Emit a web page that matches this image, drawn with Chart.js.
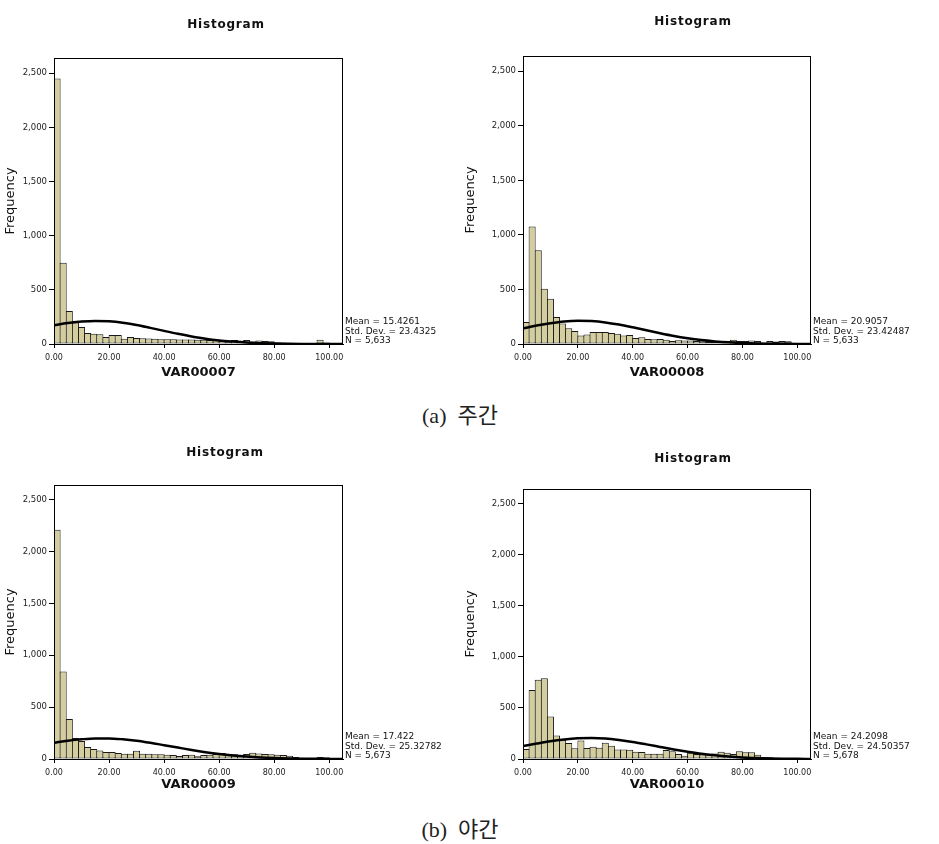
<!DOCTYPE html>
<html>
<head>
<meta charset="utf-8">
<script src="https://cdn.jsdelivr.net/npm/chart.js@4/dist/chart.umd.min.js"></script>
<style>
html,body{margin:0;padding:0;background:#fff;}
body{width:939px;height:844px;position:relative;overflow:hidden;}
canvas{position:absolute;}
.cap{position:absolute;font-family:"Liberation Serif","DejaVu Serif","Noto Sans CJK KR",serif;font-size:22px;color:#222;transform:translate(-50%,-50%);white-space:pre;}
</style>
</head>
<body>
<canvas id="c1"></canvas>
<canvas id="c2"></canvas>
<canvas id="c3"></canvas>
<canvas id="c4"></canvas>
<div class="cap" style="left:460px;top:413px">(a)  주간</div>
<div class="cap" style="left:460px;top:827px">(b)  야간</div>
<script>
// ---- data ----
const binCenters = [1.11, 3.33, 5.56, 7.78, 10.00, 12.22, 14.44, 16.67, 18.89, 21.11,
  23.33, 25.56, 27.78, 30.00, 32.22, 34.44, 36.67, 38.89, 41.11, 43.33,
  45.56, 47.78, 50.00, 52.22, 54.44, 56.67, 58.89, 61.11, 63.33, 65.56,
  67.78, 70.00, 72.22, 74.44, 76.67, 78.89, 81.11, 83.33, 85.56, 87.78,
  90.00, 92.22, 94.44, 96.67, 98.89];
const curveX = [0, 5, 10, 15, 20, 25, 30, 35, 40, 45, 50, 55, 60, 65, 70, 75, 80, 85, 90, 95, 100, 105];
const xTicks = [0, 20, 40, 60, 80, 100];
const yTicks = [0, 500, 1000, 1500, 2000, 2500];

const var07Freq = [2450, 750, 305, 215, 156, 101, 95, 89, 64, 83, 83, 49, 64, 55, 52, 50, 48, 45, 45, 45,
  42, 42, 42, 40, 40, 38, 35, 30, 25, 38, 22, 38, 22, 32, 28, 25, 15, 12, 10, 8, 6, 8, 10, 40, 15];
const var08Freq = [202, 1077, 859, 506, 414, 248, 187, 144, 120, 77, 86, 110, 110, 110, 101, 95, 77, 83, 55, 61,
  46, 43, 46, 40, 28, 34, 31, 31, 28, 25, 22, 22, 22, 15, 40, 28, 28, 31, 28, 12, 28, 22, 28, 25, 0];
const var09Freq = [2210, 843, 385, 202, 173, 115, 96, 83, 67, 67, 58, 51, 51, 80, 51, 51, 45, 45, 42, 38,
  29, 38, 42, 26, 38, 42, 48, 58, 51, 45, 38, 48, 61, 54, 48, 45, 42, 38, 32, 19, 13, 10, 10, 19, 16];
const var10Freq = [97, 675, 776, 789, 416, 230, 188, 156, 104, 182, 107, 120, 110, 159, 130, 94, 94, 91, 71, 68,
  52, 52, 52, 88, 75, 49, 32, 62, 49, 45, 45, 55, 71, 62, 49, 75, 65, 65, 42, 16, 16, 10, 10, 6, 0];

const var07Curve = [172, 193, 207, 213, 209, 196, 176, 149, 121, 94, 70, 49, 33, 22, 13, 8, 4, 2, 1, 0.6, 0.3, 0.1];
const var08Curve = [143, 169, 191, 207, 213, 210, 198, 178, 153, 126, 99, 74, 53, 36, 24, 15, 9, 5, 2.8, 1.4, 0.7, 0.3];
const var09Curve = [157, 176, 190, 198, 198, 190, 176, 156, 133, 110, 87, 66, 48, 34, 23, 15, 9.4, 5.6, 3.3, 1.8, 1.0, 0.5];
const var10Curve = [126, 151, 174, 191, 202, 205, 200, 186, 167, 143, 118, 93, 71, 51, 36, 24, 15, 9.5, 5.6, 3.2, 1.7, 0.9];

const var07Stats = ["Mean = 15.4261", "Std. Dev. = 23.4325", "N = 5,633"];
const var08Stats = ["Mean = 20.9057", "Std. Dev. = 23.42487", "N = 5,633"];
const var09Stats = ["Mean = 17.422", "Std. Dev. = 25.32782", "N = 5,673"];
const var10Stats = ["Mean = 24.2098", "Std. Dev. = 24.50357", "N = 5,678"];

const varNames = ["VAR00007", "VAR00008", "VAR00009", "VAR00010"];
const chartTitle = "Histogram";
const yTitle = "Frequency";

// ---- layout (page pixels) ----
const panels = [
  {id:'c1', x:0,   y:10,  w:452, h:370, L:54,  R:343, T:58,  B:344, tx:226, ty:25},
  {id:'c2', x:460, y:10,  w:466, h:370, L:523, R:811, T:56,  B:344, tx:693, ty:22},
  {id:'c3', x:0,   y:440, w:450, h:352, L:54,  R:343, T:485, B:759, tx:225, ty:453},
  {id:'c4', x:460, y:440, w:466, h:352, L:523, R:811, T:489, B:759, tx:693, ty:459}
];

function makeChart(p, name, freq, curve, stats) {
  const cv = document.getElementById(p.id);
  cv.width = p.w; cv.height = p.h;
  cv.style.left = p.x + 'px'; cv.style.top = p.y + 'px';
  const textPlugin = {
    id: 'panelText',
    afterDraw(chart) {
      const ctx = chart.ctx, a = chart.chartArea;
      ctx.save();
      ctx.strokeStyle = '#000'; ctx.lineWidth = 1;
      ctx.strokeRect(Math.round(a.left) + 0.5, Math.round(a.top) + 0.5,
        Math.round(a.right - a.left) - 1, Math.round(a.bottom - a.top));
      ctx.fillStyle = '#111';
      ctx.font = 'bold 12px "DejaVu Sans"';
      try { ctx.letterSpacing = '0.8px'; } catch (e) {}
      ctx.textAlign = 'center'; ctx.textBaseline = 'middle';
      ctx.fillText(chartTitle, p.tx - p.x, p.ty - p.y);
      try { ctx.letterSpacing = '0px'; } catch (e) {}
      ctx.font = '9px "DejaVu Sans"';
      ctx.textAlign = 'left';
      stats.forEach((s, i) => ctx.fillText(s, a.right + 2, a.bottom - 22 + i * 9.5));
      ctx.restore();
    }
  };
  return new Chart(cv, {
    type: 'bar',
    data: {
      datasets: [
        { type: 'line', data: curveX.map((x, i) => ({x: x, y: curve[i]})),
          borderColor: '#000', borderWidth: 2.5, pointRadius: 0,
          cubicInterpolationMode: 'monotone', fill: false, order: 0 },
        { type: 'bar', data: binCenters.map((x, i) => ({x: x, y: freq[i]})),
          backgroundColor: '#D4CD9D', borderColor: '#1a1a1a', borderWidth: 1,
          borderSkipped: false, barPercentage: 1.16, categoryPercentage: 1, order: 1 }
      ]
    },
    options: {
      responsive: false, animation: false,
      layout: { padding: { top: p.T - p.y, right: p.x + p.w - p.R, left: 0, bottom: 0 } },
      plugins: { legend: {display: false}, tooltip: {enabled: false}, title: {display: false} },
      scales: {
        x: {
          type: 'linear', min: 0, max: 105, offset: false,
          afterBuildTicks: s => { s.ticks = xTicks.map(v => ({value: v})); },
          afterFit: s => { s.height = p.y + p.h - p.B; },
          grid: { display: true, drawOnChartArea: false, drawTicks: true, tickLength: 4, color: '#000', offset: false },
          border: { display: true, color: '#000', width: 1 },
          ticks: { font: {family: 'DejaVu Sans', size: 8}, color: '#222', padding: 5, maxRotation: 0,
                   autoSkip: false, callback: v => Number(v).toFixed(2) },
          title: { display: true, text: name, font: {family: 'DejaVu Sans', size: 13, weight: 'bold'},
                   color: '#111', padding: {top: 0, bottom: 0} }
        },
        y: {
          type: 'linear', min: 0, max: 2640,
          afterBuildTicks: s => { s.ticks = yTicks.map(v => ({value: v})); },
          afterFit: s => { s.width = p.L - p.x; },
          grid: { display: true, drawOnChartArea: false, drawTicks: true, tickLength: 5, color: '#000' },
          border: { display: true, color: '#000', width: 1 },
          ticks: { font: {family: 'DejaVu Sans', size: 8.5}, color: '#222', padding: 2,
                   callback: v => Number(v).toLocaleString('en-US') },
          title: { display: true, text: yTitle, font: {family: 'DejaVu Sans', size: 13},
                   color: '#111', padding: {top: 3, bottom: 0} }
        }
      }
    },
    plugins: [textPlugin]
  });
}

makeChart(panels[0], varNames[0], var07Freq, var07Curve, var07Stats);
makeChart(panels[1], varNames[1], var08Freq, var08Curve, var08Stats);
makeChart(panels[2], varNames[2], var09Freq, var09Curve, var09Stats);
makeChart(panels[3], varNames[3], var10Freq, var10Curve, var10Stats);
</script>
</body>
</html>
